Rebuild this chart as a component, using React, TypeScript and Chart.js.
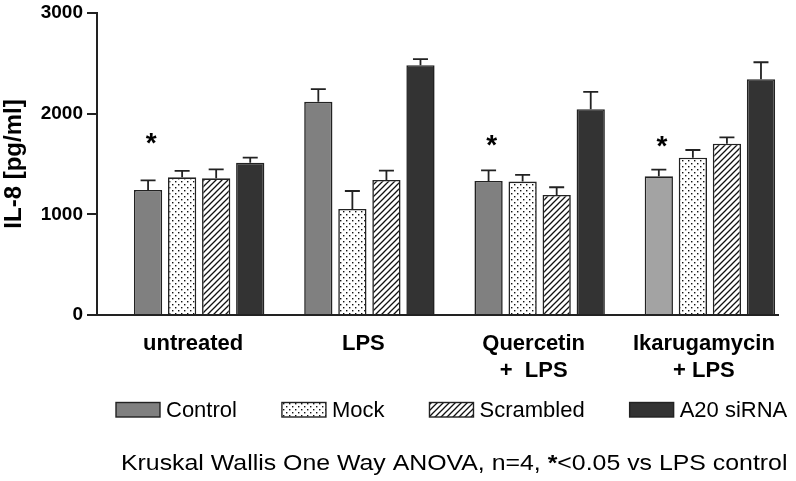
import { useEffect, useRef } from 'react';
import { Chart, registerables } from 'chart.js';

Chart.register(...registerables);

const categories: string[][] = [['untreated'], ['LPS'], ['Quercetin', '+  LPS'], ['Ikarugamycin', '+ LPS']];
const seriesNames = ['Control', 'Mock', 'Scrambled', 'A20 siRNA'];
const controlValues = [1242, 2118, 1331, 1378];
const controlErrors = [96, 125, 106, 66];
const mockValues = [1368, 1054, 1325, 1562];
const mockErrors = [63, 178, 66, 77];
const scrambledValues = [1358, 1341, 1193, 1701];
const scrambledErrors = [89, 93, 76, 64];
const a20Values = [1513, 2481, 2045, 2343];
const a20Errors = [50, 60, 172, 168];
const significance = ['*', '', '*', '*'];
const starLevels: (number | null)[] = [1755, null, 1738, 1721];
const yTicks = [0, 1000, 2000, 3000];
const yTitle = 'IL-8 [pg/ml]';
const footnoteParts: [string, boolean][] = [
  ['Kruskal Wallis One Way ANOVA, n=4, ', false],
  ['*', true],
  ['<0.05 vs LPS control', false],
];

const INK = '#222222';
const FONT = "'Liberation Sans', Arial, sans-serif";

function makeDots(): CanvasPattern | string {
  const c = document.createElement('canvas');
  c.width = 6;
  c.height = 6;
  const g = c.getContext('2d');
  if (!g) return '#fff';
  g.fillStyle = '#ffffff';
  g.fillRect(0, 0, 6, 6);
  g.fillStyle = '#111111';
  g.fillRect(1, 1, 1.4, 1.4);
  g.fillRect(4, 4, 1.4, 1.4);
  return g.createPattern(c, 'repeat') || '#fff';
}

function makeHatch(): CanvasPattern | string {
  const s = 6;
  const c = document.createElement('canvas');
  c.width = s;
  c.height = s;
  const g = c.getContext('2d');
  if (!g) return '#fff';
  g.fillStyle = '#ffffff';
  g.fillRect(0, 0, s, s);
  g.strokeStyle = '#111111';
  g.lineWidth = 1.3;
  g.beginPath();
  g.moveTo(-1, 1);
  g.lineTo(1, -1);
  g.moveTo(0, s);
  g.lineTo(s, 0);
  g.moveTo(s - 1, s + 1);
  g.lineTo(s + 1, s - 1);
  g.stroke();
  return g.createPattern(c, 'repeat') || '#fff';
}

export default function App() {
  const ref = useRef<HTMLCanvasElement | null>(null);

  useEffect(() => {
    document.body.style.margin = '0';
    const canvas = ref.current;
    if (!canvas) return;
    const dots = makeDots();
    const hatch = makeHatch();

    const toPoints = (vals: number[]) => vals.map((v, i) => ({ x: i, y: v }));

    const datasets: any[] = [
      {
        label: seriesNames[0],
        data: toPoints(controlValues),
        errors: controlErrors,
        backgroundColor: ['#808080', '#808080', '#808080', '#a3a3a3'],
        legendFill: '#808080',
      },
      { label: seriesNames[1], data: toPoints(mockValues), errors: mockErrors, backgroundColor: dots, legendFill: dots },
      { label: seriesNames[2], data: toPoints(scrambledValues), errors: scrambledErrors, backgroundColor: hatch, legendFill: hatch },
      { label: seriesNames[3], data: toPoints(a20Values), errors: a20Errors, backgroundColor: '#333333', legendFill: '#333333' },
    ].map((d) => ({
      ...d,
      borderColor: INK,
      borderWidth: 1.6,
      categoryPercentage: 0.8,
      barPercentage: 0.83,
    }));

    const errorBars = {
      id: 'errorBars',
      afterDatasetsDraw(chart: any) {
        const { ctx } = chart;
        const yScale = chart.scales.y;
        ctx.save();
        ctx.strokeStyle = INK;
        ctx.lineWidth = 1.8;
        chart.data.datasets.forEach((ds: any, di: number) => {
          const meta = chart.getDatasetMeta(di);
          meta.data.forEach((bar: any, i: number) => {
            const v = ds.data[i].y;
            const top = yScale.getPixelForValue(v + ds.errors[i]);
            ctx.beginPath();
            ctx.moveTo(bar.x, bar.y);
            ctx.lineTo(bar.x, top);
            ctx.moveTo(bar.x - 7.5, top);
            ctx.lineTo(bar.x + 7.5, top);
            ctx.stroke();
          });
        });
        // significance stars above the Control bars
        const meta0 = chart.getDatasetMeta(0);
        ctx.fillStyle = '#000';
        ctx.font = `bold 28px ${FONT}`;
        ctx.textAlign = 'center';
        ctx.textBaseline = 'alphabetic';
        significance.forEach((s, i) => {
          const lvl = starLevels[i];
          if (!s || lvl === null) return;
          const m = ctx.measureText(s);
          const cy = yScale.getPixelForValue(lvl);
          const base = cy + (m.actualBoundingBoxAscent - m.actualBoundingBoxDescent) / 2;
          ctx.fillText(s, meta0.data[i].x + 3, base);
        });
        ctx.restore();
      },
    };

    const legendAndNote = {
      id: 'legendAndNote',
      afterDraw(chart: any) {
        const { ctx } = chart;
        ctx.save();
        // legend
        ctx.font = `22px ${FONT}`;
        ctx.textBaseline = 'alphabetic';
        ctx.textAlign = 'left';
        let x = 116;
        const boxTop = 402.5;
        const boxW = 44;
        const boxH = 14.5;
        chart.data.datasets.forEach((ds: any) => {
          ctx.fillStyle = ds.legendFill;
          ctx.fillRect(x, boxTop, boxW, boxH);
          ctx.strokeStyle = INK;
          ctx.lineWidth = 1.4;
          ctx.strokeRect(x, boxTop, boxW, boxH);
          ctx.fillStyle = '#000';
          const tx = x + boxW + 6;
          ctx.fillText(ds.label, tx, 416.7);
          x = tx + ctx.measureText(ds.label).width + 45;
        });
        // footnote
        ctx.translate(121, 470);
        ctx.scale(1.13, 1);
        let fx = 0;
        footnoteParts.forEach(([txt, bold]) => {
          ctx.font = `${bold ? 'bold ' : ''}22px ${FONT}`;
          ctx.fillText(txt, fx, 0);
          fx += ctx.measureText(txt).width;
        });
        ctx.restore();
      },
    };

    const chart = new Chart(canvas, {
      type: 'bar',
      data: { datasets },
      options: {
        responsive: false,
        animation: false,
        layout: { padding: { left: 0, right: 18, top: 13, bottom: 0 } },
        plugins: {
          legend: { display: false },
          tooltip: { enabled: false },
        },
        scales: {
          x: {
            type: 'linear',
            min: -0.6,
            max: 3.4,
            offset: false,
            afterBuildTicks: (axis: any) => {
              axis.ticks = categories.map((_, i) => ({ value: i }));
            },
            afterFit: (scale: any) => {
              scale.height = 166;
              scale.paddingLeft = 0;
              scale.paddingRight = 0;
            },
            grid: { display: false, drawTicks: false },
            border: { display: true, color: INK, width: 2 },
            ticks: {
              autoSkip: false,
              maxRotation: 0,
              padding: 15,
              labelOffset: -6,
              color: '#000',
              font: { family: FONT, size: 22, weight: 'bold', lineHeight: 1.23 },
              callback: (v: any) => categories[Math.round(Number(v))] ?? '',
            },
          },
          y: {
            min: 0,
            max: 3000,
            afterBuildTicks: (axis: any) => {
              axis.ticks = yTicks.map((v) => ({ value: v }));
            },
            afterFit: (scale: any) => {
              scale.width = 97;
              scale.paddingTop = 0;
              scale.paddingBottom = 0;
            },
            grid: { drawOnChartArea: false, drawTicks: true, tickLength: 10, color: INK, lineWidth: 2 },
            border: { display: true, color: INK, width: 2 },
            ticks: {
              padding: 4,
              color: '#000',
              font: { family: FONT, size: 19, weight: 'bold' },
              callback: (v: any) => String(v),
            },
            title: {
              display: true,
              text: yTitle,
              color: '#000',
              padding: { top: 0, bottom: 0 },
              font: { family: FONT, size: 24, weight: 'bold', lineHeight: 1.2 },
            },
          },
        },
      },
      plugins: [errorBars, legendAndNote],
    } as any);

    return () => chart.destroy();
  }, []);

  return (
    <div style={{ width: 796, height: 481, background: '#fff' }}>
      <canvas ref={ref} width={796} height={481} />
    </div>
  );
}
